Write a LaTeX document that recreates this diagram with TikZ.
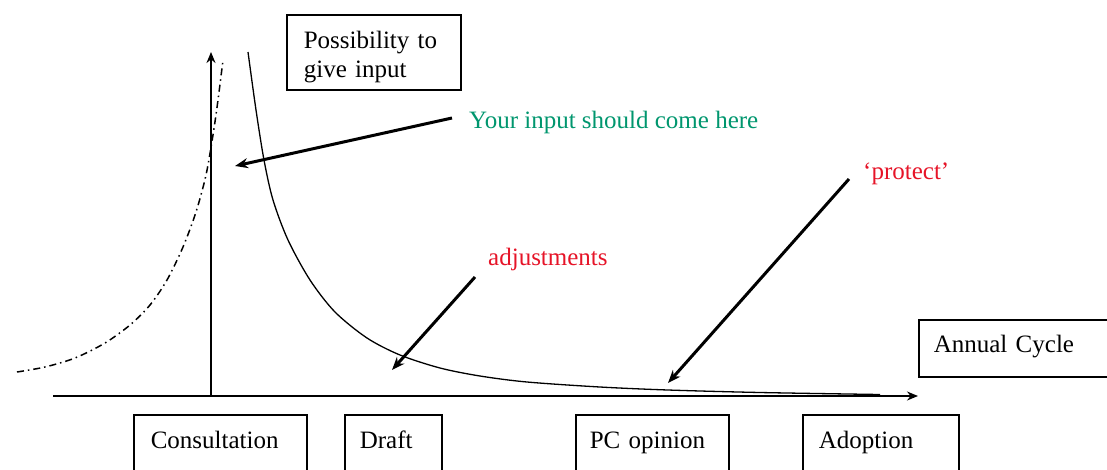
\documentclass[tikz,border=0pt]{standalone}
\usepackage{fontspec}
\setmainfont{Liberation Serif}
\usetikzlibrary{arrows.meta}
\definecolor{inputgreen}{RGB}{0,150,110}
\definecolor{notered}{RGB}{230,20,40}
\begin{document}
\begin{tikzpicture}[x=1pt,y=-1pt,
  every node/.style={font=\fontsize{25}{29}\selectfont},
  box/.style={draw, line width=1.6pt, anchor=north west, inner ysep=0pt, align=left},
  lbl/.style={anchor=base west, inner sep=0pt},
  pointer/.style={line width=3pt, -{Stealth[length=13pt,width=10pt]}},
  axisline/.style={line width=1.6pt, -{Stealth[length=11pt,width=9pt]}},
  curveline/.style={line width=1.3pt},
  dashcurve/.style={line width=1.5pt, dash pattern=on 7pt off 4pt on 1.5pt off 4pt},
]
\useasboundingbox (0,0) rectangle (1107,469);

% curves
\draw[curveline] plot[smooth, tension=0.5] coordinates {(248,52) (256,110) (264,160) (273,200) (288,240) (310,280) (335,312) (367,338) (400,355) (440,368) (480,376) (527,382) (600,387) (668,390) (760,392.5) (880,394.5)};
\draw[dashcurve] plot[smooth, tension=0.5] coordinates {(17,372) (45,367) (75,358) (105,343) (130,325) (150,305) (167,280) (183,247) (196,212) (206,175) (213,135) (218,100) (223,60)};

% axes
\coordinate (xstart) at (53,396);
\coordinate (xend) at (918,396);
\coordinate (origin) at (211,396);
\coordinate (ytop) at (211,52);
\draw[axisline] (xstart) -- (xend);
\draw[axisline] (origin) -- (ytop);

% boxes
\node[box, inner xsep=17pt, text width=140pt, text height=34pt, text depth=41pt] (possib) at (286,14) {Possibility to\\give input};
\node[box, inner xsep=17pt, text width=139pt, text height=34pt, text depth=40pt] (consult) at (133,414) {Consultation};
\node[box, inner xsep=15pt, text width=67pt, text height=34pt, text depth=40pt] (draft) at (344,414) {Draft};
\node[box, inner xsep=14pt, text width=125pt, text height=34pt, text depth=40pt] (pcop) at (575,414) {PC opinion};
\node[box, inner xsep=16pt, text width=124pt, text height=34pt, text depth=40pt] (adopt) at (802,414) {Adoption};
\node[box, inner xsep=15pt, text width=200pt, text height=33pt, text depth=24pt] (annual) at (918,319) {Annual Cycle};

% labels
\node[lbl, text=inputgreen] (yourinput) at (469,128) {Your input should come here};
\node[lbl, text=notered] (adjust) at (488,265) {adjustments};
\node[lbl, text=notered] (protect) at (863,179) {‘protect’};

% pointers
\coordinate (yistart) at (452,118);
\coordinate (yitip) at (235,166);
\coordinate (adjstart) at (475,277);
\coordinate (adjtip) at (392,370);
\coordinate (prstart) at (849,179);
\coordinate (prtip) at (668,383);
\draw[pointer] (yistart) -- (yitip);
\draw[pointer] (adjstart) -- (adjtip);
\draw[pointer] (prstart) -- (prtip);
\end{tikzpicture}
\end{document}
